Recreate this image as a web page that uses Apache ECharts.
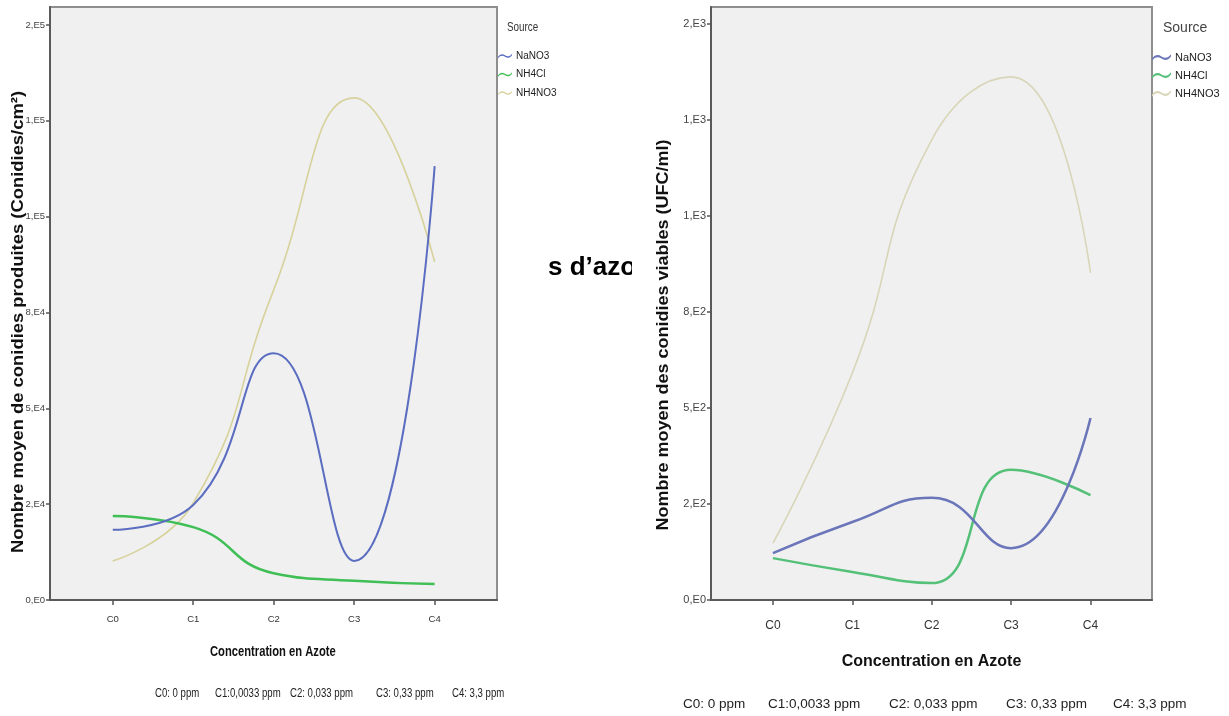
<!DOCTYPE html>
<html>
<head>
<meta charset="utf-8">
<script src="https://cdn.jsdelivr.net/npm/echarts@6/dist/echarts.min.js"></script>
<style>
  html, body { margin: 0; padding: 0; background: #ffffff; }
  #chart { width: 1229px; height: 716px; }
</style>
</head>
<body>
<div id="chart"></div>
<script>
// ---- data ----
const categories = ['C0', 'C1', 'C2', 'C3', 'C4'];
const seriesNames = ['NaNO3', 'NH4Cl', 'NH4NO3'];

// Left chart: Nombre moyen de conidies produites (Conidies/cm²)
const conidiesNaNO3  = [18300, 24800, 64400, 10200, 113200];
const conidiesNH4Cl  = [21900, 19000, 7000, 5000, 4200];
const conidiesNH4NO3 = [10200, 25300, 80900, 131000, 88200];
const conidiesTickLabels = ['0,E0', '2,E4', '5,E4', '8,E4', '1,E5', '1,E5', '2,E5'];

// Right chart: Nombre moyen des conidies viables (UFC/ml)
const viablesNaNO3  = [122, 203, 266, 135, 474];
const viablesNH4Cl  = [109, 73, 44, 339, 273];
const viablesNH4NO3 = [148, 591, 1198, 1362, 852];
const viablesTickLabels = ['0,E0', '2,E2', '5,E2', '8,E2', '1,E3', '1,E3', '2,E3'];

const noteLabels = ['C0: 0 ppm', 'C1:0,0033 ppm', 'C2: 0,033 ppm', 'C3: 0,33 ppm', 'C4: 3,3 ppm'];
const xTitle = 'Concentration en Azote';
const yTitleLeft = 'Nombre moyen de conidies produites (Conidies/cm²)';
const yTitleRight = 'Nombre moyen des conidies viables (UFC/ml)';
const legendTitle = 'Source';
const strayText = 's d’azo';

// ---- helpers ----
const SANS = '"Liberation Sans", Arial, sans-serif';
const pts = arr => arr.map((v, i) => [i, v]);

const leftColors = ['#5b6dc0', '#3fbf55', '#d7d29b'];
const rightColors = ['#6b75b9', '#54c078', '#d8d5b8'];
const leftWidths = [2, 2.5, 1.6];
const rightWidths = [2.5, 2.5, 1.6];
const waveIcon = 'path://M0,5 C3,1 6,1 9,3 C12,5 15,5 18,1 L18,3 C15,7 12,7 9,5 C6,3 3,3 0,7 Z';

function xAxisFor(gridIndex, labelSize, labelMargin, showName) {
  return {
    type: 'value', gridIndex: gridIndex, min: -0.78, max: 4.775,
    axisLine: { show: true, onZero: false, lineStyle: { color: '#5a5a5a', width: 2 } },
    axisTick: { show: true, length: 5, customValues: [0, 1, 2, 3, 4], lineStyle: { color: '#555', width: 1.5 } },
    axisLabel: { customValues: [0, 1, 2, 3, 4], formatter: v => categories[Math.round(v)],
                 color: '#333', fontSize: labelSize, fontFamily: SANS, margin: labelMargin },
    splitLine: { show: false },
    name: showName ? xTitle : '', nameLocation: 'middle', nameGap: 54,
    nameTextStyle: { fontSize: 16, fontWeight: 'bold', fontFamily: SANS, color: '#111' }
  };
}

function yAxisFor(gridIndex, max, interval, labels, labelSize) {
  return {
    type: 'value', gridIndex: gridIndex, min: 0, max: max, interval: interval,
    axisLine: { show: true, onZero: false, lineStyle: { color: '#5a5a5a', width: 2 } },
    axisTick: { show: true, length: 4, lineStyle: { color: '#555', width: 1.5 } },
    axisLabel: { formatter: v => labels[Math.round(v / interval)] || '',
                 color: '#444', fontSize: labelSize, fontFamily: SANS, margin: 5, showMaxLabel: false },
    splitLine: { show: false }
  };
}

const leftData = [conidiesNaNO3, conidiesNH4Cl, conidiesNH4NO3];
const rightData = [viablesNaNO3, viablesNH4Cl, viablesNH4NO3];

const series = [];
leftData.forEach((d, k) => series.push({
  name: seriesNames[k], type: 'line', xAxisIndex: 0, yAxisIndex: 0,
  data: pts(d), smooth: 0.5, symbol: 'none', color: leftColors[k],
  lineStyle: { width: leftWidths[k], color: leftColors[k] }, z: 3 - k
}));
rightData.forEach((d, k) => series.push({
  name: seriesNames[k] + ' ', type: 'line', xAxisIndex: 1, yAxisIndex: 1,
  data: pts(d), smooth: 0.5, symbol: 'none', color: rightColors[k],
  lineStyle: { width: rightWidths[k], color: rightColors[k] }, z: 3 - k
}));

const notesLeftX = [155, 215, 290, 376, 452];
const notesRightX = [683, 768, 889, 1006, 1113];

const graphics = [];
noteLabels.forEach((t, i) => {
  graphics.push({ type: 'text', x: notesLeftX[i], y: 694, scaleX: 0.8,
    style: { text: t, fill: '#222', font: '12px ' + SANS, verticalAlign: 'middle' } });
  graphics.push({ type: 'text', x: notesRightX[i], y: 704,
    style: { text: t, fill: '#222', font: '13.5px ' + SANS, verticalAlign: 'middle' } });
});
// left x-axis title (narrow look)
graphics.push({ type: 'text', x: 210, y: 652, scaleX: 0.8,
  style: { text: xTitle, fill: '#111', font: 'bold 14px ' + SANS, verticalAlign: 'middle' } });
// y-axis titles (rotated, reading bottom to top)
graphics.push({ type: 'text', x: 18.5, y: 322, rotation: Math.PI / 2, scaleX: 1.15,
  style: { text: yTitleLeft, fill: '#111', font: 'bold 16px ' + SANS, align: 'center', verticalAlign: 'middle' } });
graphics.push({ type: 'text', x: 663.5, y: 335, rotation: Math.PI / 2, scaleX: 1.09,
  style: { text: yTitleRight, fill: '#111', font: 'bold 16.5px ' + SANS, align: 'center', verticalAlign: 'middle' } });
// legend titles
graphics.push({ type: 'text', x: 507, y: 28, scaleX: 0.82,
  style: { text: legendTitle, fill: '#333', font: '12px ' + SANS, verticalAlign: 'middle' } });
graphics.push({ type: 'text', x: 1163, y: 28,
  style: { text: legendTitle, fill: '#444', font: '14px ' + SANS, verticalAlign: 'middle' } });
// stray caption fragment, clipped by the right image
graphics.push({ type: 'text', x: 548, y: 268, z: 1,
  style: { text: strayText, fill: '#000', font: 'bold 26px ' + SANS, verticalAlign: 'middle' } });
graphics.push({ type: 'rect', shape: { x: 632, y: 250, width: 21, height: 36 }, z: 2,
  style: { fill: '#ffffff' } });

const option = {
  backgroundColor: '#ffffff',
  animation: false,
  grid: [
    { left: 50, top: 7, width: 447, height: 593, show: true, backgroundColor: '#f0f0f0',
      borderColor: '#8e8e8e', borderWidth: 2, containLabel: false },
    { left: 711, top: 7, width: 441, height: 593, show: true, backgroundColor: '#f0f0f0',
      borderColor: '#8e8e8e', borderWidth: 2, containLabel: false }
  ],
  xAxis: [
    xAxisFor(0, 9.5, 14, false),
    xAxisFor(1, 12, 20, true)
  ],
  yAxis: [
    yAxisFor(0, 154700, 25000, conidiesTickLabels, 9.5),
    yAxisFor(1, 1544, 250, viablesTickLabels, 11)
  ],
  legend: [
    { data: seriesNames, orient: 'vertical', left: 498, top: 51, padding: 0,
      icon: waveIcon, itemWidth: 14, itemHeight: 7, itemGap: 8.5, selectedMode: false,
      textStyle: { fontSize: 10, fontFamily: SANS, color: '#222', padding: [0, 0, 0, -1] } },
    { data: seriesNames.map(n => n + ' '), orient: 'vertical', left: 1152, top: 52, padding: 0,
      icon: waveIcon, itemWidth: 19, itemHeight: 7, itemGap: 7, selectedMode: false,
      textStyle: { fontSize: 11, fontFamily: SANS, color: '#222', padding: [0, 0, 0, -1] } }
  ],
  graphic: graphics,
  series: series
};

const chart = echarts.init(document.getElementById('chart'), null, { renderer: 'canvas' });
chart.setOption(option);
</script>
</body>
</html>
